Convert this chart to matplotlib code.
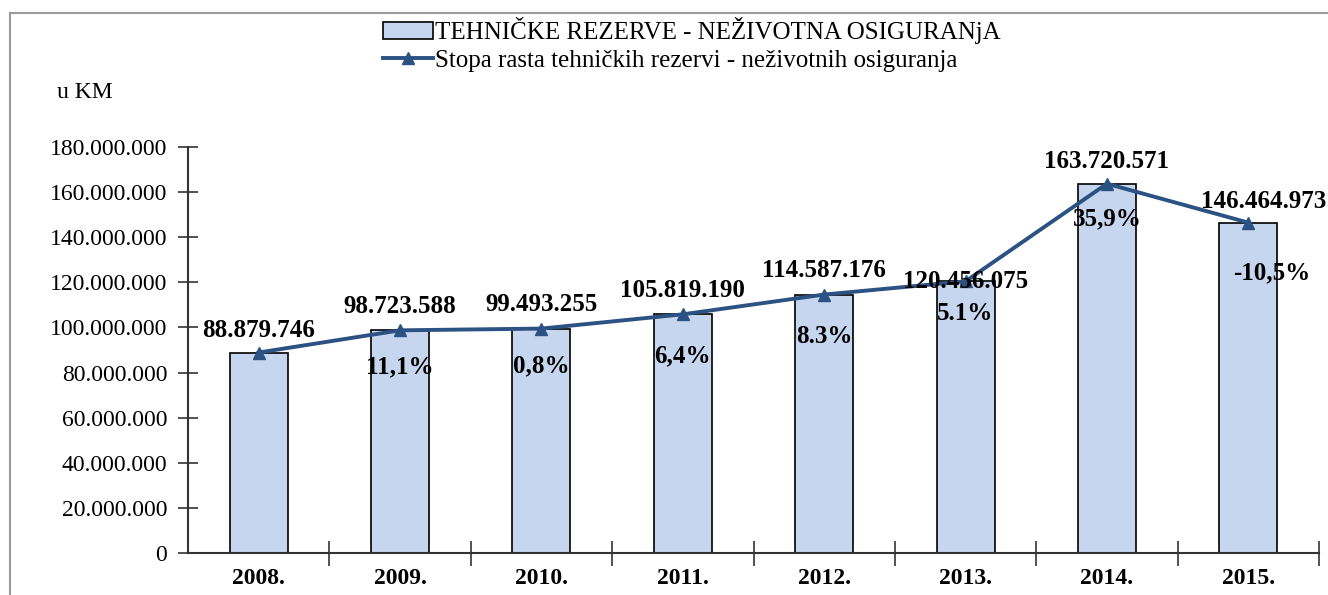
import matplotlib.pyplot as plt
import matplotlib.patches as mpatches
from matplotlib.lines import Line2D
import numpy as np

plt.rcParams['font.family'] = ['Liberation Serif', 'DejaVu Serif']

years = ['2008.', '2009.', '2010.', '2011.', '2012.', '2013.', '2014.', '2015.']
reserves = [88879746, 98723588, 99493255, 105819190, 114587176, 120456075, 163720571, 146464973]
value_labels = ['88.879.746', '98.723.588', '99.493.255', '105.819.190',
                '114.587.176', '120.456.075', '163.720.571', '146.464.973']
growth_labels = ['', '11,1%', '0,8%', '6,4%', '8.3%', '5.1%', '35,9%', '-10,5%']
yticks = [0, 20000000, 40000000, 60000000, 80000000, 100000000,
          120000000, 140000000, 160000000, 180000000]

# label offsets in points (dx, dy)
val_off = [(0, 16), (0, 17), (0, 17), (0, 17), (0, 17), (0, 0), (0, 16), (11, 15)]
pct_off = [(0, 0), (0, -26), (0, -27), (0, -30), (0, -30), (0, -23), (0, -25), (17, -36)]

bar_color = '#C6D6EE'
line_color = '#2C5283'

fig = plt.figure(figsize=(13.28, 5.95), dpi=100)
ax = fig.add_axes([188 / 1328, 1 - 553 / 595, (1319 - 188) / 1328, (553 - 147) / 595])

x = np.arange(len(years))
ax.bar(x, reserves, width=0.41, color=bar_color, edgecolor='black', linewidth=1.2, zorder=2)
ax.plot(x, reserves, color=line_color, linewidth=2.8, marker='^', markersize=9, zorder=3)

for i in range(len(years)):
    ax.annotate(value_labels[i], (x[i], reserves[i]), xytext=val_off[i], textcoords='offset points',
                ha='center', va='center', fontsize=18, fontweight='bold', annotation_clip=False, zorder=4)
    if growth_labels[i]:
        ax.annotate(growth_labels[i], (x[i], reserves[i]), xytext=pct_off[i], textcoords='offset points',
                    ha='center', va='center', fontsize=18, fontweight='bold', zorder=4)

ax.set_xlim(-0.5, len(years) - 0.5)
ax.set_ylim(0, 180000000)
ax.set_yticks(yticks)
ax.set_yticklabels([f'{v:,}'.replace(',', '.') for v in yticks], fontsize=17)
ax.set_xticks(x)
ax.set_xticklabels(years, fontsize=17, fontweight='bold')
ax.set_xticks(np.arange(-0.5, len(years), 1.0)[1:], minor=True)
ax.tick_params(axis='x', which='major', length=0, pad=11)
ax.tick_params(axis='x', which='minor', direction='inout', length=18, width=1.2, color='#333333')
ax.tick_params(axis='y', direction='inout', length=14, width=1.2, color='#333333', pad=8)

for s in ['top', 'right']:
    ax.spines[s].set_visible(False)
for s in ['left', 'bottom']:
    ax.spines[s].set_linewidth(1.5)
    ax.spines[s].set_color('#333333')

fig.text(57 / 1328, 1 - 93 / 595, 'u KM', fontsize=17, va='center', ha='left')

frame = mpatches.Rectangle((10 / 1328, -0.2), 2, 1.2 - 13 / 595, transform=fig.transFigure,
                           fill=False, edgecolor='#9A9A9A', linewidth=1.5)
fig.patches.append(frame)

handles = [mpatches.Patch(facecolor=bar_color, edgecolor='black', linewidth=1.2),
           Line2D([], [], color=line_color, linewidth=2.8, marker='^', markersize=9)]
names = ['TEHNIČKE REZERVE - NEŽIVOTNA OSIGURANjA',
         'Stopa rasta tehničkih rezervi - neživotnih osiguranja']
fig.legend(handles, names, loc='upper left', bbox_to_anchor=(383 / 1328, 1 - 17 / 595),
           frameon=False, fontsize=18, handlelength=2.0, handletextpad=0.1,
           labelspacing=0.2, borderpad=0, borderaxespad=0)

fig.savefig('out.png', dpi=100)
